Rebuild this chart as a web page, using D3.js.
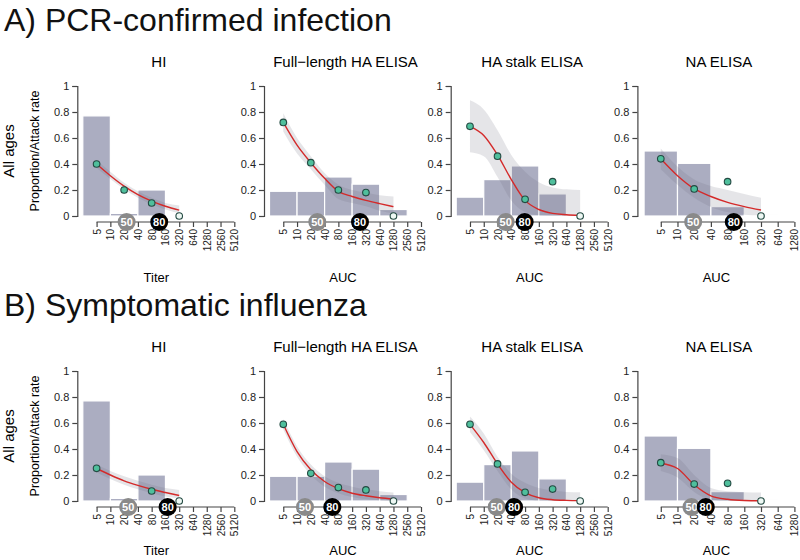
<!DOCTYPE html>
<html lang="en">
<head>
<meta charset="UTF-8">
<title>Antibody titers and infection risk</title>
<script src="https://cdn.jsdelivr.net/npm/d3@7"></script>
<style>
  body { margin: 0; background: #fff; }
  svg { font-family: "Liberation Sans", Arial, Helvetica, sans-serif; }
  .axis path, .axis line { stroke: #444; stroke-width: 1.2; }
  .axis text { fill: #222; }
</style>
</head>
<body>
<div id="chart"></div>
<script>
// ---- data ----
const rowTitles = ["A) PCR-confirmed infection", "B) Symptomatic influenza"];
const panelTitles = ["HI", "Full\u2212length HA ELISA", "HA stalk ELISA", "NA ELISA"];
const xLabels = ["Titer", "AUC", "AUC", "AUC"];
const yTicks = [0, 0.2, 0.4, 0.6, 0.8, 1];
const ticksLong = [5, 10, 20, 40, 80, 160, 320, 640, 1280, 2560, 5120];
const ticksShort = [5, 10, 20, 40, 80, 160, 320, 640, 1280];

// distribution bars (same in both rows), centred on 5, 20, 80, 320, 1280
const barTiters = [5, 20, 80, 320, 1280];
const barsHI = [0.77, 0.02, 0.20, 0, 0];
const barsFull = [0.19, 0.19, 0.30, 0.245, 0.05];
const barsStalk = [0.145, 0.28, 0.385, 0.17, 0.008];
const barsNA = [0.50, 0.405, 0.072, 0.008, 0];

// observed attack rates
const pointTiters = [5, 20, 80, 320, 1280];
const pcrPointsHI = [0.40, 0.20, 0.10, 0];
const pcrPointsFull = [0.72, 0.41, 0.20, 0.18, 0];
const pcrPointsStalk = [0.69, 0.46, 0.128, 0.264, 0];
const pcrPointsNA = [0.44, 0.208, 0.264, 0];
const symPointsHI = [0.251, null, 0.077, 0];
const symPointsFull = [0.59, 0.213, 0.103, 0.085, 0];
const symPointsStalk = [0.59, 0.285, 0.067, 0.092, 0];
const symPointsNA = [0.295, 0.13, 0.136, 0];

// fitted curve and confidence band
const fitTiters = [5, 10, 20, 40, 80, 160, 320, 640, 1280];
const pcrFitHI = [0.40, 0.31, 0.23, 0.165, 0.115, 0.075, 0.045];
const pcrLowHI = [0.37, 0.285, 0.205, 0.14, 0.09, 0.05, 0.02];
const pcrUpHI = [0.43, 0.34, 0.255, 0.19, 0.14, 0.10, 0.08];
const pcrFitFull = [0.72, 0.545, 0.41, 0.29, 0.19, 0.15, 0.12, 0.095, 0.072];
const pcrLowFull = [0.65, 0.48, 0.36, 0.24, 0.13, 0.10, 0.075, 0.04, 0.02];
const pcrUpFull = [0.79, 0.60, 0.46, 0.33, 0.24, 0.20, 0.18, 0.16, 0.15];
const pcrFitStalk = [0.69, 0.62, 0.47, 0.28, 0.12, 0.05, 0.02, 0.01, 0.005];
const pcrLowStalk = [0.49, 0.46, 0.30, 0.12, 0.03, 0.005, 0, 0, 0];
const pcrUpStalk = [0.89, 0.82, 0.66, 0.47, 0.34, 0.26, 0.22, 0.205, 0.20];
const pcrFitNA = [0.44, 0.31, 0.21, 0.15, 0.105, 0.072, 0.046];
const pcrLowNA = [0.36, 0.24, 0.14, 0.07, 0.03, 0.01, 0.005];
const pcrUpNA = [0.52, 0.38, 0.28, 0.23, 0.20, 0.17, 0.14];
const symFitHI = [0.25, 0.20, 0.155, 0.12, 0.09, 0.065, 0.042];
const symLowHI = [0.22, 0.17, 0.125, 0.09, 0.06, 0.035, 0.02];
const symUpHI = [0.28, 0.23, 0.19, 0.155, 0.125, 0.10, 0.085];
const symFitFull = [0.59, 0.38, 0.24, 0.15, 0.095, 0.06, 0.04, 0.025, 0.015];
const symLowFull = [0.55, 0.34, 0.20, 0.11, 0.06, 0.03, 0.015, 0.005, 0];
const symUpFull = [0.63, 0.42, 0.28, 0.19, 0.14, 0.11, 0.09, 0.075, 0.065];
const symFitStalk = [0.59, 0.45, 0.285, 0.145, 0.065, 0.025, 0.01, 0.005, 0.003];
const symLowStalk = [0.53, 0.39, 0.23, 0.09, 0.02, 0.003, 0, 0, 0];
const symUpStalk = [0.65, 0.52, 0.34, 0.21, 0.14, 0.10, 0.08, 0.07, 0.067];
const symFitNA = [0.29, 0.25, 0.125, 0.04, 0.013, 0.004, 0.002];
const symLowNA = [0.23, 0.18, 0.07, 0.01, 0, 0, 0];
const symUpNA = [0.36, 0.33, 0.20, 0.10, 0.075, 0.068, 0.065];

// titers giving 50% and 80% protection
const pcrProt50 = [22.7, 27.7, 30.1, 19.2];
const pcrProt80 = [117, 237.5, 78.4, 103.4];
const symProt50 = [24.6, 14.9, 19.2, 17.9];
const symProt80 = [178.8, 59, 46, 32.3];

// ---- panel table built from the arrays ----
const barSets = [barsHI, barsFull, barsStalk, barsNA];
const tickSets = [ticksLong, ticksLong, ticksLong, ticksShort];
const rows = [
  {
    points: [pcrPointsHI, pcrPointsFull, pcrPointsStalk, pcrPointsNA],
    fit: [pcrFitHI, pcrFitFull, pcrFitStalk, pcrFitNA],
    low: [pcrLowHI, pcrLowFull, pcrLowStalk, pcrLowNA],
    up: [pcrUpHI, pcrUpFull, pcrUpStalk, pcrUpNA],
    p50: pcrProt50, p80: pcrProt80,
    xLabelY: 282
  },
  {
    points: [symPointsHI, symPointsFull, symPointsStalk, symPointsNA],
    fit: [symFitHI, symFitFull, symFitStalk, symFitNA],
    low: [symLowHI, symLowFull, symLowStalk, symLowNA],
    up: [symUpHI, symUpFull, symUpStalk, symUpNA],
    p50: symProt50, p80: symProt80,
    xLabelY: 555
  }
];

const svg = d3.select("#chart").append("svg")
    .attr("width", 800)
    .attr("height", 560);

const rowStep = 285;
const panelStep = 186.7;

rows.forEach(function(row, r) {
  const off = r * rowStep;

  // big row heading
  svg.append("text")
      .attr("x", 4)
      .attr("y", 31 + off)
      .style("font-size", "32px")
      .style("fill", "#111")
      .text(rowTitles[r]);

  const y = d3.scaleLinear().domain([0, 1]).range([216 + off, 86 + off]);
  const axisY = y(0) + 6;

  // row labels on the left
  svg.append("text")
      .attr("transform", "translate(14," + (151 + off) + ") rotate(-90)")
      .style("text-anchor", "middle")
      .style("font-size", "15px")
      .text("All ages");
  svg.append("text")
      .attr("transform", "translate(38.5," + (151 + off) + ") rotate(-90)")
      .style("text-anchor", "middle")
      .style("font-size", "12.5px")
      .text("Proportion/Attack rate");

  for (let i = 0; i < 4; i++) {
    const x0 = 77.3 + i * panelStep;
    const ticks = tickSets[i];
    const x = d3.scaleLog().base(2)
        .domain([5 * Math.pow(2, -1.4), ticks[ticks.length - 1]])
        .range([x0, x0 + 157]);

    const g = svg.append("g");

    // panel title
    g.append("text")
        .attr("x", x0 + 81.5)
        .attr("y", 66.5 + off)
        .style("text-anchor", "middle")
        .style("font-size", "15px")
        .text(panelTitles[i]);

    // histogram bars
    const bars = barTiters.map((t, k) => ({t: t, v: barSets[i][k]}))
        .filter(d => d.v > 0);
    g.selectAll(".bar")
      .data(bars)
      .enter().append("rect")
        .attr("x", d => x(d.t / 2))
        .attr("width", d => x(d.t * 2) - x(d.t / 2))
        .attr("y", d => y(d.v))
        .attr("height", d => y(0) - y(d.v))
        .attr("fill", "#abadc1")
        .attr("stroke", "#fff")
        .attr("stroke-width", 1.2);

    // confidence band
    const fit = row.fit[i].map((v, k) => ({t: fitTiters[k], v: v, lo: row.low[i][k], hi: row.up[i][k]}));
    g.append("path")
        .datum(fit)
        .attr("d", d3.area()
            .x(d => x(d.t))
            .y0(d => y(d.lo))
            .y1(d => y(d.hi))
            .curve(d3.curveMonotoneX))
        .attr("fill", "rgb(110,110,125)")
        .attr("fill-opacity", 0.18);

    // fitted curve
    g.append("path")
        .datum(fit)
        .attr("d", d3.line()
            .x(d => x(d.t))
            .y(d => y(d.v))
            .curve(d3.curveMonotoneX))
        .attr("fill", "none")
        .attr("stroke", "#d42a2a")
        .attr("stroke-width", 1.4);

    // y axis
    const ya = g.append("g")
        .attr("class", "axis")
        .attr("transform", "translate(" + x0 + ",0)")
        .call(d3.axisLeft(y).tickValues(yTicks).tickSizeOuter(0).tickSize(5).tickPadding(3)
            .tickFormat(d => d3.format("~g")(d)));
    ya.selectAll("text").style("font-size", "11px");

    // x axis (line only between first and last tick)
    const xa = g.append("g")
        .attr("class", "axis")
        .attr("transform", "translate(0," + axisY + ")")
        .call(d3.axisBottom(x).tickValues(ticks).tickSize(5).tickFormat(d3.format("d")));
    xa.select(".domain").remove();
    xa.append("line")
        .attr("x1", x(ticks[0]))
        .attr("x2", x(ticks[ticks.length - 1]));
    xa.selectAll("text")
        .attr("transform", "rotate(-90)")
        .attr("x", -7)
        .attr("y", 0)
        .attr("dy", "0.35em")
        .style("text-anchor", "end")
        .style("font-size", "10px");

    // x label
    g.append("text")
        .attr("x", x0 + 79)
        .attr("y", row.xLabelY)
        .style("text-anchor", "middle")
        .style("font-size", "13px")
        .text(xLabels[i]);

    // observed points
    const pts = row.points[i].map((v, k) => ({t: pointTiters[k], v: v}))
        .filter(d => d.v !== null);
    g.selectAll(".pt")
      .data(pts)
      .enter().append("circle")
        .attr("cx", d => x(d.t))
        .attr("cy", d => y(d.v))
        .attr("r", 3.3)
        .attr("fill", d => d.v === 0 ? "#eef8f4" : "#4fbf9c")
        .attr("stroke", "#234a42")
        .attr("stroke-width", 1.1);

    // protection badges
    const badges = [
      {t: row.p50[i], label: "50", color: "#8a8a8a"},
      {t: row.p80[i], label: "80", color: "#000"}
    ];
    const b = g.selectAll(".badge")
      .data(badges)
      .enter().append("g")
        .attr("transform", d => "translate(" + x(d.t) + "," + axisY + ")");
    b.append("circle")
        .attr("r", 9)
        .attr("fill", d => d.color);
    b.append("text")
        .attr("dy", "0.36em")
        .style("text-anchor", "middle")
        .style("font-size", "11px")
        .style("font-weight", "bold")
        .style("fill", "#fff")
        .text(d => d.label);
  }
});
</script>
</body>
</html>
